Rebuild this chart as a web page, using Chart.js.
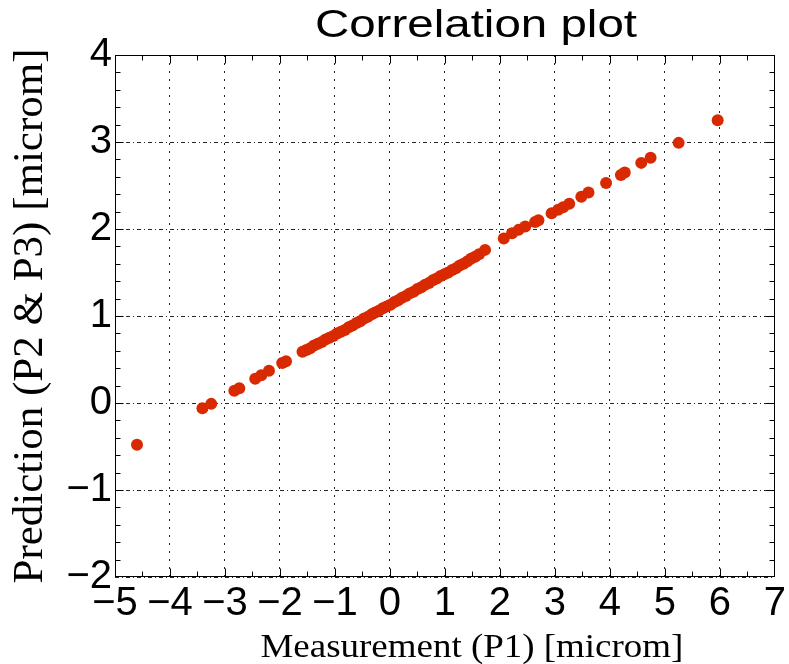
<!DOCTYPE html>
<html>
<head>
<meta charset="utf-8">
<title>Correlation plot</title>
<script src="https://cdn.jsdelivr.net/npm/chart.js@4.4.1/dist/chart.umd.min.js"></script>
<style>
  html, body { margin: 0; padding: 0; background: #fff; }
  #wrap { width: 789px; height: 664px; position: relative; }
</style>
</head>
<body>
<div id="wrap"><canvas id="corr"></canvas></div>
<script>
  const measX = [
    -4.60, -3.41, -3.25, -2.83, -2.74, -2.45, -2.34, -2.20, -1.96, -1.89, -1.59,
    -1.52, -1.45, -1.38, -1.31, -1.24, -1.17, -1.10, -1.03, -0.96, -0.89, -0.82,
    -0.75, -0.68, -0.61, -0.54, -0.47, -0.40, -0.33, -0.27, -0.20, -0.13, -0.06,
    0.01, 0.08, 0.15, 0.22, 0.29, 0.36, 0.43, 0.50, 0.57, 0.64, 0.71, 0.78, 0.85,
    0.92, 0.99, 1.06, 1.13, 1.20, 1.27, 1.34, 1.41, 1.48, 1.55, 1.62, 1.73,
    2.07, 2.22, 2.34, 2.46, 2.64, 2.70, 2.94, 3.06, 3.15, 3.26, 3.48, 3.61,
    3.93, 4.20, 4.27, 4.57, 4.74, 5.25, 5.96
  ];
  const predY = [
    -0.48, -0.06, -0.01, 0.14, 0.17, 0.28, 0.32, 0.37, 0.46, 0.48, 0.59,
    0.61, 0.63, 0.66, 0.68, 0.70, 0.73, 0.75, 0.77, 0.80, 0.82, 0.84,
    0.87, 0.89, 0.92, 0.94, 0.97, 0.99, 1.02, 1.04, 1.06, 1.09, 1.11,
    1.13, 1.16, 1.18, 1.21, 1.23, 1.26, 1.28, 1.31, 1.33, 1.36, 1.38, 1.41, 1.43,
    1.46, 1.48, 1.50, 1.53, 1.55, 1.58, 1.60, 1.63, 1.66, 1.68, 1.71, 1.76,
    1.89, 1.95, 1.99, 2.03, 2.08, 2.10, 2.18, 2.22, 2.25, 2.29, 2.37, 2.42,
    2.53, 2.62, 2.65, 2.76, 2.82, 2.99, 3.25
  ];
  const xRange = [-5, 7];
  const yRange = [-2, 4];
  const titleText = 'Correlation plot';
  const xTitle = 'Measurement (P1) [microm]';
  const yTitle = 'Prediction (P2 & P3) [microm]';

  const DOT = '#d92900';
  const SANS = '"Liberation Sans", Arial, sans-serif';
  const SERIF = '"Liberation Serif", "Times New Roman", serif';
  const fmt = (v) => String(v).replace('-', '\u2212');

  function stretchedText(ctx, text, font, cx, baseY, sx) {
    ctx.save();
    ctx.font = font;
    ctx.translate(cx, baseY);
    ctx.scale(sx, 1);
    ctx.textAlign = 'center';
    ctx.textBaseline = 'alphabetic';
    ctx.fillStyle = '#000';
    ctx.fillText(text, 0, 0);
    ctx.restore();
  }

  // box round the axes, inward tick marks, title and x label
  const framePlugin = {
    id: 'frame',
    afterDraw(chart) {
      const { ctx, chartArea: a, scales: { x, y } } = chart;
      const L = Math.round(a.left) + 0.5, R = Math.round(a.right) - 0.5;
      const T = Math.round(a.top) + 0.5, B = Math.round(a.bottom) - 0.5;
      ctx.save();
      ctx.strokeStyle = '#000';
      ctx.lineWidth = 1;
      ctx.setLineDash([]);
      ctx.strokeRect(L, T, R - L, B - T);
      ctx.beginPath();
      const nx = Math.round((xRange[1] - xRange[0]) / 0.5);
      for (let i = 1; i < nx; i++) {
        const v = xRange[0] + i * 0.5;
        const px = Math.round(x.getPixelForValue(v)) + 0.5;
        const len = Number.isInteger(v) ? 8 : 5;
        ctx.moveTo(px, B); ctx.lineTo(px, B - len);
        ctx.moveTo(px, T); ctx.lineTo(px, T + len);
      }
      const ny = Math.round((yRange[1] - yRange[0]) / 0.2);
      for (let i = 1; i < ny; i++) {
        const v = yRange[0] + i * 0.2;
        const py = Math.round(y.getPixelForValue(v)) + 0.5;
        const len = Math.abs(v - Math.round(v)) < 1e-6 ? 8 : 5;
        ctx.moveTo(L, py); ctx.lineTo(L + len, py);
        ctx.moveTo(R, py); ctx.lineTo(R - len, py);
      }
      ctx.stroke();
      ctx.restore();

      const mid = (a.left + a.right) / 2;
      stretchedText(ctx, titleText, '38px ' + SANS, mid + 31, a.top - 18, 1.25);
      stretchedText(ctx, xTitle, '33px ' + SERIF, mid + 27, chart.height - 7, 1.12);
    }
  };

  new Chart(document.getElementById('corr'), {
    type: 'scatter',
    data: {
      datasets: [{
        data: measX.map((v, i) => ({ x: v, y: predY[i] })),
        backgroundColor: DOT,
        borderWidth: 0,
        pointRadius: 6,
        pointHoverRadius: 6,
      }],
    },
    options: {
      responsive: true,
      maintainAspectRatio: false,
      animation: false,
      events: [],
      layout: { padding: { top: 55, right: 12, left: 0, bottom: 0 } },
      plugins: { legend: { display: false }, tooltip: { enabled: false }, title: { display: false } },
      scales: {
        x: {
          type: 'linear', min: xRange[0], max: xRange[1],
          afterFit: (s) => { s.height = 87; },
          ticks: { stepSize: 1, autoSkip: false, maxRotation: 0, padding: 3, color: '#000',
            font: { family: SANS, size: 40 }, callback: fmt },
          grid: { color: 'rgba(0,0,0,0.85)', lineWidth: 1, drawTicks: false },
          border: { display: false, dash: [2, 6] },
        },
        y: {
          type: 'linear', min: yRange[0], max: yRange[1],
          afterFit: (s) => { s.width = 115; },
          ticks: { stepSize: 1, autoSkip: false, padding: 3, color: '#000',
            font: { family: SANS, size: 40 }, callback: fmt },
          grid: { color: 'rgba(0,0,0,0.85)', lineWidth: 1, drawTicks: false },
          border: { display: false, dash: [4, 3, 1, 3] },
          title: { display: true, text: yTitle, color: '#000',
            font: { family: SERIF, size: 43 }, padding: { top: 5, bottom: 0 } },
        },
      },
    },
    plugins: [framePlugin],
  });
</script>
</body>
</html>
